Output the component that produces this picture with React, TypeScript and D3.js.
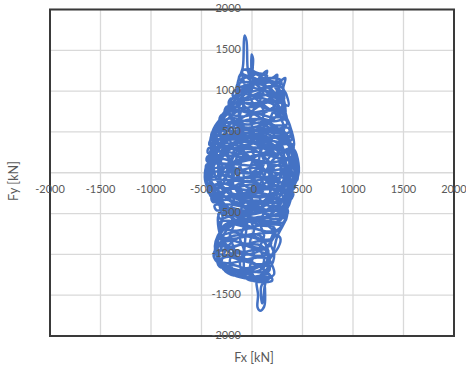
import React from "react";
import * as d3 from "d3";

const X_TICKS = [-2000, -1500, -1000, -500, 0, 500, 1000, 1500, 2000];
const Y_TICKS = [-2000, -1500, -1000, -500, 0, 500, 1000, 1500, 2000];
const X_TITLE = "Fx [kN]";
const Y_TITLE = "Fy [kN]";

// [Fx, Fy] trajectory
const loopsA: [number, number][] = [
  [0,0],[180,220],[-80,380],[-320,180],[-260,-220],[60,-380],[320,-120],[260,280],[-40,480],[-360,380],
  [-430,-20],[-240,-420],[80,-560],[330,-420],[420,20],[320,420],[20,620],[-300,580],[-410,200],[-390,-220],
  [-140,-520],[210,-640],[360,-260],[430,180],[210,560],[-120,760],[-310,500],[-200,90],[-40,-180],[160,-90],
  [110,210],[-110,120],[-60,-320],[240,-300],[200,80],[-20,300],[-250,260],[-330,-60],[-150,-300],[120,-200],
  [330,60],[230,380],[-80,300],[-200,-80],[0,-420],[280,-520],[380,-140],[300,200],[60,420],[-220,420],
  [-400,80],[-350,-330],[-60,-460],[180,-240],[60,60],[-130,280],[-280,-120],
  [-230,200],[-380,480],[-260,700],[-60,900],[140,1050],[-60,1180],[-150,950],[60,720],[260,880],[180,1120],
  [-100,1020],[-240,780],[-90,560],[190,640],[300,820],[220,1060],[20,1220],[-90,1260],[-50,1020],[170,780],
  [320,680],[290,980],[110,1160],[-110,960],[-290,660],[-120,430],[140,520],[340,580],[260,920],[60,1100],
  [-140,1060],[-90,1300],[-75,1680],[-55,1620],[-40,1250],[-10,1150],[-5,1450],[10,1400],[20,1120],[200,1160],
  [250,1200],[240,1080],[300,1040],[320,900],[290,1100],[230,960],[80,860],[-180,840],[-320,620],[-150,380],
  [120,300],[380,460],[300,760],[120,960],[-110,880],[-200,640],[20,520],[250,720],[210,1000],[0,1080],
  [-130,760],[-20,380],[260,450],[410,320],[350,640],[160,860],[-60,700],[-260,560],[-410,360],[-380,540],
  [-240,760],[-40,1000],[100,1200],[150,1250],[130,1120],[270,1120],[330,1160],[310,1030],[340,960],[360,820],
  [300,860]
];

const sweepRows: [number, number][] = [
  [-100,1240],[-30,1270],[40,1230],
  [150,1190],[60,1220],[-20,1180],[-110,1210],
  [-130,1140],[-40,1170],[60,1130],[170,1160],[280,1140],
  [290,1090],[200,1120],[90,1080],[-20,1110],[-140,1090],
  [-150,1040],[-50,1070],[60,1030],[170,1060],[300,1040],
  [310,1010],[210,980],[100,1020],[-20,990],[-170,1010],
  [-190,940],[-80,970],[40,930],[170,960],[300,940],
  [310,900],[200,880],[80,920],[-60,890],[-210,910],
  [-230,840],[-120,870],[0,830],[140,860],[320,840],
  [300,800],[180,780],[60,820],[-80,790],[-250,810],
  [-270,740],[-150,770],[-20,730],[120,760],[300,740],
  [310,700],[190,680],[60,720],[-90,690],[-300,710],
  [-320,640],[-190,670],[-50,630],[100,660],[220,630],[330,650],
  [350,600],[230,580],[100,620],[-40,590],[-190,610],[-340,600],
  [-370,540],[-240,570],[-100,530],[40,560],[190,530],[360,550],
  [370,500],[240,480],[100,520],[-50,490],[-210,510],[-390,500],
  [-400,440],[-260,470],[-120,430],[30,460],[190,430],[380,450],
  [390,400],[250,380],[100,420],[-50,390],[-220,410],[-410,400],
  [-420,340],[-280,370],[-130,330],[20,360],[180,330],[400,350],
  [410,300],[260,280],[110,320],[-50,290],[-230,310],[-430,300],
  [-435,240],[-290,270],[-140,230],[10,260],[170,230],[420,250],
  [430,200],[280,180],[120,220],[-40,190],[-230,210],[-440,200],
  [-445,140],[-300,170],[-150,130],[0,160],[170,130],[440,150],
  [450,100],[300,80],[140,120],[-30,90],[-230,110],[-450,100],
  [-450,40],[-300,70],[-150,30],[10,60],[180,30],[455,50],
  [460,0],[310,-20],[150,20],[-20,-10],[-220,10],[-450,0],
  [-450,-60],[-300,-30],[-150,-70],[10,-40],[180,-70],[450,-50],
  [440,-100],[290,-120],[130,-80],[-30,-110],[-230,-90],[-450,-100],
  [-445,-160],[-300,-130],[-150,-170],[10,-140],[180,-170],[425,-150],
  [410,-200],[260,-220],[110,-180],[-50,-210],[-240,-190],[-440,-200],
  [-420,-260],[-280,-230],[-130,-270],[20,-240],[190,-270],[395,-250],
  [380,-300],[240,-320],[90,-280],[-60,-310],[-230,-290],[-400,-300],
  [-385,-360],[-250,-330],[-110,-370],[40,-340],[200,-370],[370,-350],
  [355,-400],[220,-420],[80,-380],[-70,-410],[-220,-390],[-370,-400],
  [-350,-460],[-210,-430],[-70,-470],[80,-440],[220,-470],[350,-450],
  [350,-500],[210,-520],[70,-480],[-80,-510],[-210,-490],[-330,-500],
  [-320,-560],[-190,-530],[-50,-570],[90,-540],[220,-570],[340,-550],
  [320,-600],[190,-620],[50,-580],[-90,-610],[-210,-590],[-315,-600],
  [-310,-660],[-180,-630],[-40,-670],[100,-640],[290,-650],
  [250,-700],[130,-720],[0,-680],[-150,-710],[-310,-700],
  [-315,-760],[-180,-730],[-40,-770],[100,-740],[230,-750],
  [210,-800],[90,-820],[-40,-780],[-180,-810],[-320,-800],
  [-335,-860],[-200,-830],[-60,-870],[70,-840],[190,-850],
  [170,-900],[50,-920],[-80,-880],[-220,-910],[-350,-900],
  [-365,-960],[-230,-930],[-90,-970],[40,-940],[160,-950],
  [150,-1000],[30,-1020],[-100,-980],[-240,-1010],[-375,-1000],
  [-360,-1060],[-230,-1030],[-90,-1070],[40,-1040],[150,-1050],
  [160,-1100],[40,-1120],[-90,-1080],[-220,-1110],[-340,-1100],
  [-310,-1160],[-190,-1130],[-60,-1170],[60,-1140],[170,-1150],
  [170,-1200],[60,-1220],[-60,-1180],[-170,-1210],[-270,-1200],
  [-180,-1260],[-80,-1230],[30,-1270],[170,-1250],
  [160,-1300],[60,-1320],[-60,-1290]
];

const loopsB: [number, number][] = [
  [200,560],[440,100],[360,-200],[120,-80],[-160,60],[-430,120],[-450,-150],[-250,-300],[40,-200],[200,150],
  [400,300],[460,-20],[300,-320],[20,-360],[-300,-180],[-380,160],[-200,420],[90,380],[280,100],[160,-380],
  [-100,-400],[-420,-80],[-330,330],[-50,200],[240,-80],[410,-260],[220,-460],[-200,-360],[-440,20],[-280,400],
  [40,560],[350,380],[450,60],[280,-200],[-60,-100],[-320,-260],[-260,80],[0,180],[300,300],[380,-40],
  [100,-300],[-180,-180],[-360,260],[-120,520],[180,460],[420,240]
];

const sweepCols: [number, number][] = [
  [-420,-150],[-390,0],[-430,150],[-400,300],[-380,450],
  [-300,650],[-330,500],[-280,350],[-320,200],[-290,50],[-330,-100],[-280,-250],[-320,-400],[-290,-550],[-320,-700],[-280,-850],[-330,-1000],[-280,-1150],
  [-180,-1230],[-220,-1080],[-180,-930],[-220,-780],[-180,-630],[-220,-480],[-180,-330],[-220,-180],[-180,-30],[-220,120],[-180,270],[-220,420],[-180,570],[-220,720],[-180,870],
  [-120,1000],[-80,850],[-120,700],[-80,550],[-120,400],[-80,250],[-120,100],[-80,-50],[-120,-200],[-80,-350],[-120,-500],[-80,-650],[-120,-800],[-80,-950],[-120,-1100],[-80,-1250],
  [20,-1300],[-20,-1150],[20,-1000],[-20,-850],[20,-700],[-20,-550],[20,-400],[-20,-250],[20,-100],[-20,50],[20,200],[-20,350],[20,500],[-20,650],[20,800],[-20,950],[20,1100],[-20,1230],
  [80,1180],[120,1030],[80,880],[120,730],[80,580],[120,430],[80,280],[120,130],[80,-20],[120,-170],[80,-320],[120,-470],[80,-620],[120,-770],[80,-920],[120,-1070],[80,-1220],
  [180,-1150],[220,-1000],[180,-850],[220,-700],[180,-550],[220,-400],[180,-250],[220,-100],[180,50],[220,200],[180,350],[220,500],[180,650],[220,800],[180,950],[220,1100],
  [280,1000],[320,850],[280,700],[320,550],[280,400],[320,250],[280,100],[320,-50],[280,-200],[320,-350],[280,-500],
  [380,-250],[420,-100],[390,50],[430,200],[380,320]
];

const loopsC: [number, number][] = [
  [350,-200],[200,-500],[-100,-600],[-320,-500],[-300,-800],[-100,-1000],[150,-900],[230,-700],[60,-580],[-250,-660],
  [-360,-950],[-260,-1180],[40,-1280],[160,-1150],[120,-850],[-120,-760],[-330,-880],[-300,-1100],[-60,-1200],[180,-1050],
  [250,-780],[340,-560],[350,-480],[300,-650],[240,-720],[120,-620],[-180,-580],[-320,-720],[-220,-980],[-20,-1080],
  [170,-1240],[200,-1320],[30,-1330],[-120,-1230],[-330,-1060],[-360,-840],[-220,-620],[80,-700],[280,-800],[200,-1000],
  [0,-920],[-260,-820],[-380,-1020],[-200,-1200],[100,-1180],[160,-960],[60,-760],[-200,-850],[-300,-1150],[-150,-1270],
  [60,-1300],[160,-1280],[50,-1290],[60,-1500],[55,-1650],[80,-1690],[120,-1640],[130,-1480],[120,-1340],[90,-1400],
  [100,-1600],[110,-1560],[140,-1330],[220,-1240],[180,-1080],[100,-900],[-100,-880],[-300,-950],[-250,-700],[0,-560],
  [260,-600],[340,-460],[380,-300],
  [200,-200],[-100,-250],[-400,-300],[-420,-100],[-300,250],[-100,400],[200,250],[350,-50],[150,-450],[-150,-480],
  [-320,-400],[-440,-180],[-380,300],[-150,600],[100,650],[330,450],[430,120],[420,-150],[250,-400],[-50,-520],
  [-280,-460],[-420,-60],[-300,360],[0,440],[300,520],[400,200],[300,0],[0,-60],[-230,-30],[-100,180],
  [100,100],[0,-100],[0,0]
];

const trajectory: [number, number][] = [...loopsA, ...sweepRows, ...loopsB, ...sweepCols, ...loopsC];

export default function App() {
  const W = 466, H = 366;
  const x = d3.scaleLinear().domain([-2000, 2000]).range([50, 454]);
  const y = d3.scaleLinear().domain([-2000, 2000]).range([336, 9.5]);
  const line = d3
    .line<[number, number]>()
    .x((d) => x(d[0]))
    .y((d) => y(d[1]))
    .curve(d3.curveCatmullRom.alpha(0.5));
  const font = "Lato, 'Open Sans', sans-serif";
  const gray = "#595959";
  return (
    <svg width={W} height={H} style={{ position: "absolute", left: 0, top: 0, background: "#fff" }}>
      {X_TICKS.map((t) => (
        <line key={"gx" + t} x1={x(t)} x2={x(t)} y1={y(2000)} y2={y(-2000)} stroke="#d9d9d9" strokeWidth={1.3} />
      ))}
      {Y_TICKS.map((t) => (
        <line key={"gy" + t} x1={x(-2000)} x2={x(2000)} y1={y(t)} y2={y(t)} stroke="#d9d9d9" strokeWidth={1.3} />
      ))}
      <path d={line(trajectory) || ""} fill="none" stroke="#4472C4" strokeWidth={2.5} strokeLinejoin="round" />
      <rect x={x(-2000)} y={y(2000)} width={x(2000) - x(-2000)} height={y(-2000) - y(2000)} fill="none" stroke="#3a3a3a" strokeWidth={2} />
      {X_TICKS.map((t) => (
        <text key={"xl" + t} x={x(t) + (t === 0 ? 2 : 0)} y={y(0) + 17} textAnchor="middle" dominantBaseline="middle" fontFamily={font} fontSize={11} fill={gray}>
          {t}
        </text>
      ))}
      {Y_TICKS.map((t) => (
        <text key={"yl" + t} x={x(0) - 11} y={y(t)} textAnchor="end" dominantBaseline="middle" fontFamily={font} fontSize={11} fill={gray}>
          {t}
        </text>
      ))}
      <text x={254} y={359} textAnchor="middle" dominantBaseline="middle" fontFamily={font} fontSize={12.5} fill={gray}>
        {X_TITLE}
      </text>
      <text transform="translate(15,181) rotate(-90)" textAnchor="middle" dominantBaseline="middle" fontFamily={font} fontSize={12.5} fill={gray}>
        {Y_TITLE}
      </text>
    </svg>
  );
}
